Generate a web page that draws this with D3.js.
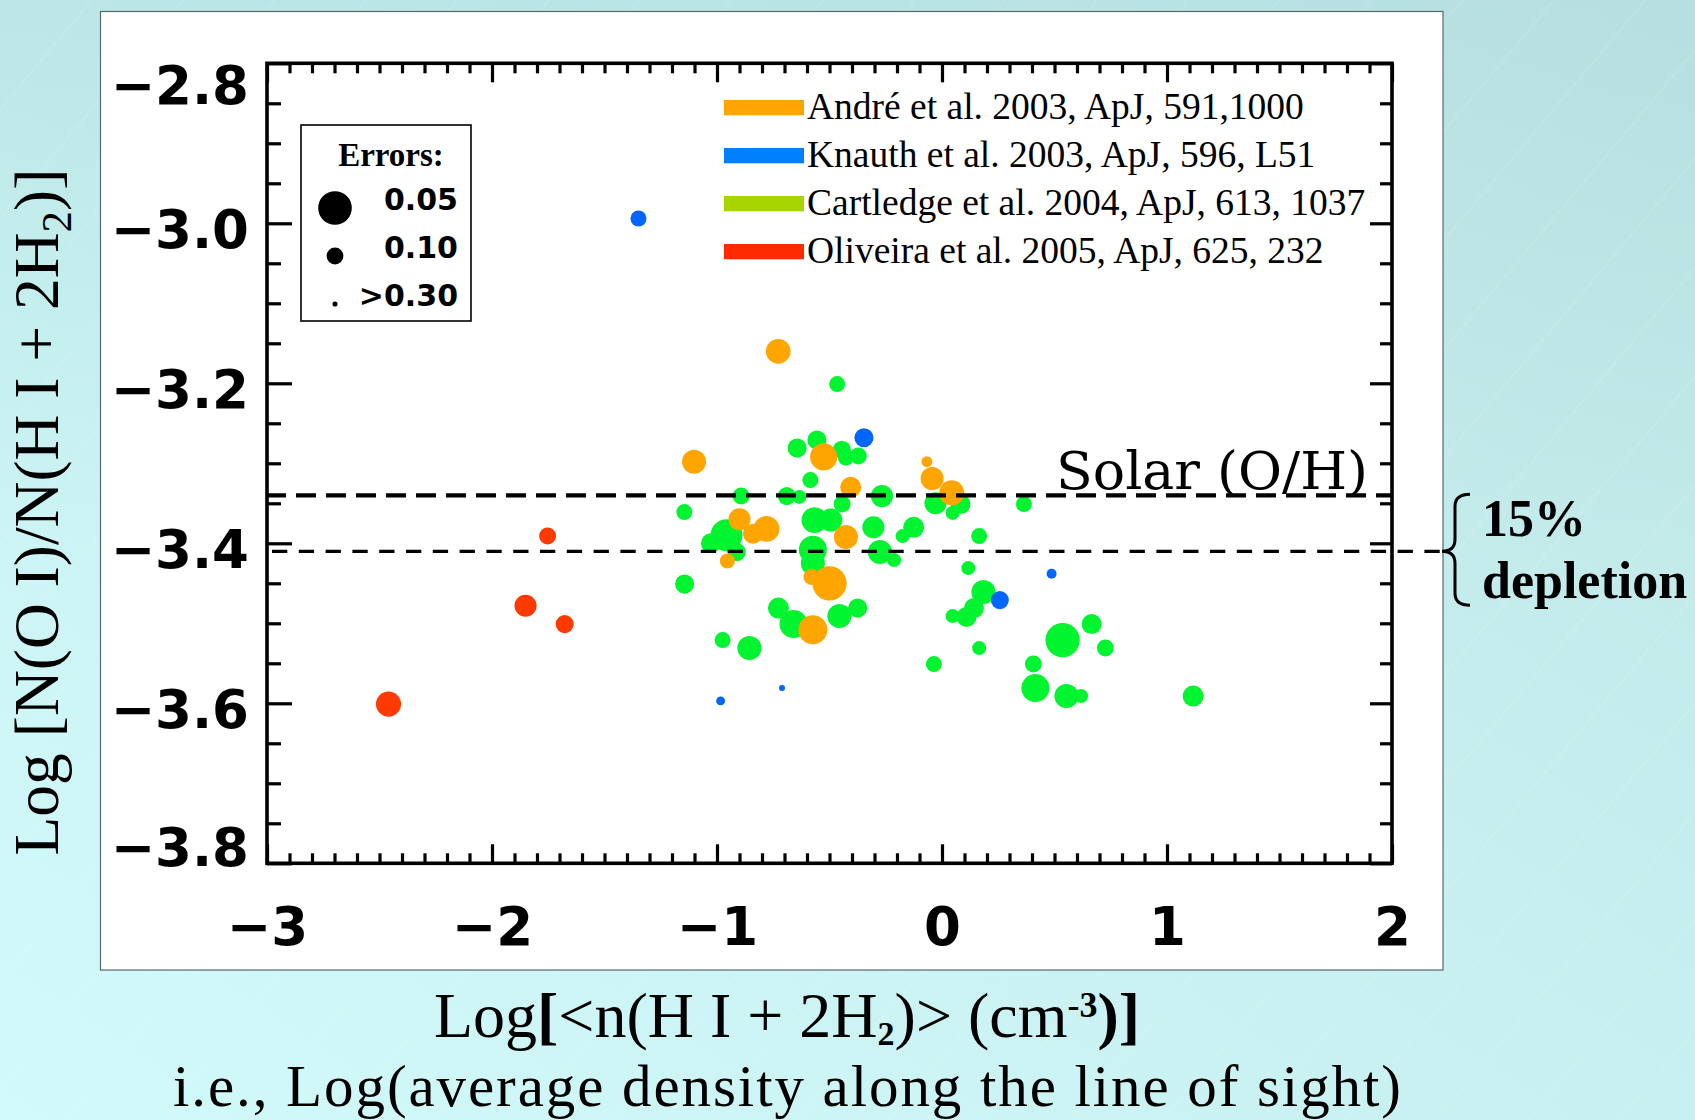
<!DOCTYPE html>
<html><head><meta charset="utf-8">
<script src="https://cdn.jsdelivr.net/npm/d3@7"></script>
<style>html,body{margin:0;padding:0;overflow:hidden;background:#c8eeee}</style>
</head><body>
<svg id="c" width="1695" height="1120"></svg>
<script>
// ---------------- data ----------------
const xTickValues = [-3, -2, -1, 0, 1, 2];
const yTickValues = [-2.8, -3.0, -3.2, -3.4, -3.6, -3.8];
const seriesNames = ["André et al. 2003, ApJ, 591,1000", "Knauth et al. 2003, ApJ, 596, L51",
  "Cartledge et al. 2004, ApJ, 613, 1037", "Oliveira et al. 2005, ApJ, 625, 232"];

const andreX = [-0.728,-0.526,-1.102,-0.067,-0.044,-0.406,0.043,-0.900,-0.780,-0.840,-0.427,-0.954,-0.580,-0.500,-0.574];
const andreY = [-3.160,-3.292,-3.298,-3.298,-3.319,-3.330,-3.337,-3.370,-3.382,-3.388,-3.392,-3.422,-3.442,-3.450,-3.508];
const andreErr = [0.068,0.062,0.07,0.153,0.073,0.08,0.067,0.076,0.065,0.084,0.07,0.112,0.105,0.049,0.058];

const knauthX = [-1.349,-0.347,0.487,0.257,-0.984,-0.711];
const knauthY = [-2.994,-3.268,-3.438,-3.471,-3.597,-3.581];
const knauthErr = [0.105,0.088,0.168,0.093,0.19,0.28];

const cartledgeX = [-0.466,-0.556,-0.644,-0.445,-0.427,-0.372,-0.585,-0.893,-0.690,-0.634,-0.267,-0.029,0.082,0.047,-0.444,-1.145,0.364,-0.567,-0.494,-0.305,-0.126,-0.175,-0.958,-1.027,-0.912,-0.574,-0.574,-0.276,-0.213,0.165,0.117,-1.144,0.184,0.142,0.109,0.047,-0.727,-0.660,-0.456,-0.375,-0.975,-0.856,0.165,-0.036,0.536,0.665,0.726,0.406,0.415,0.553,0.618,1.116];
const cartledgeY = [-3.201,-3.271,-3.281,-3.283,-3.293,-3.291,-3.321,-3.341,-3.341,-3.342,-3.341,-3.350,-3.351,-3.362,-3.351,-3.361,-3.351,-3.371,-3.371,-3.380,-3.380,-3.391,-3.390,-3.400,-3.411,-3.408,-3.425,-3.411,-3.421,-3.391,-3.431,-3.451,-3.461,-3.481,-3.492,-3.491,-3.481,-3.501,-3.491,-3.481,-3.521,-3.531,-3.531,-3.551,-3.521,-3.501,-3.531,-3.551,-3.581,-3.591,-3.591,-3.591];
const cartledgeErr = [0.105,0.088,0.088,0.093,0.105,0.099,0.105,0.099,0.093,0.12,0.076,0.076,0.084,0.12,0.099,0.105,0.105,0.065,0.073,0.076,0.08,0.12,0.0525,0.084,0.093,0.06,0.07,0.07,0.12,0.105,0.12,0.088,0.07,0.084,0.084,0.12,0.08,0.06,0.07,0.088,0.105,0.07,0.12,0.105,0.049,0.084,0.099,0.099,0.06,0.07,0.12,0.08];

const oliveiraX = [-1.753,-1.851,-1.677,-2.460];
const oliveiraY = [-3.391,-3.478,-3.501,-3.601];
const oliveiraErr = [0.099,0.076,0.093,0.067];

const solarOH = -3.34;
const depleted15 = -3.41;
const errorLegendValues = [0.05, 0.10, 0.33];
const errorLegendLabels = ["0.05", "0.10", ">0.30"];

// ---------------- drawing ----------------
const W = 1695, H = 1120;
const svg = d3.select("#c");
const defs = svg.append("defs");
const bg = defs.append("linearGradient").attr("id","bg")
  .attr("x1","0").attr("y1","1").attr("x2","1").attr("y2","0");
bg.append("stop").attr("offset","0").attr("stop-color","#d2fafa");
bg.append("stop").attr("offset","0.5").attr("stop-color","#c8f0f0");
bg.append("stop").attr("offset","1").attr("stop-color","#bfe4e4");
const vg = defs.append("linearGradient").attr("id","vg")
  .attr("x1","0").attr("y1","0").attr("x2","0").attr("y2","1");
vg.append("stop").attr("offset","0").attr("stop-color","#a8d6d6").attr("stop-opacity",0.35);
vg.append("stop").attr("offset","0.5").attr("stop-color","#a8d6d6").attr("stop-opacity",0);
const pat = defs.append("pattern").attr("id","stripes").attr("width",70).attr("height",70)
  .attr("patternUnits","userSpaceOnUse").attr("patternTransform","rotate(-50)");
pat.append("line").attr("x1",0).attr("y1",0).attr("x2",70).attr("y2",0)
  .attr("stroke","#ffffff").attr("stroke-opacity",0.18).attr("stroke-width",1.5);

svg.append("rect").attr("width",W).attr("height",H).attr("fill","url(#bg)");
svg.append("rect").attr("width",W).attr("height",H).attr("fill","url(#vg)");
svg.append("rect").attr("width",W).attr("height",H).attr("fill","url(#stripes)");

// white panel
svg.append("rect").attr("x",100.5).attr("y",11.5).attr("width",1342.5).attr("height",958.5)
  .attr("fill","#ffffff").attr("stroke","#56696b").attr("stroke-width",1.2);

const x = d3.scaleLinear().domain([-3, 2]).range([267, 1392]);
const y = d3.scaleLinear().domain([-3.8, -2.8]).range([863.3, 63.3]);
const X0 = x.range()[0], X1 = x.range()[1], Y0 = y.range()[0], Y1 = y.range()[1];

const isMult = (v, step) => Math.abs(Math.round(v/step) - v/step) < 1e-6;
const xMinor = x.ticks(50).filter(v => !isMult(v, 1));
const yMinor = y.ticks(20).filter(v => !isMult(v, 0.2));

const tickStyle = g => {
  g.select(".domain").remove();
  g.selectAll(".tick line").attr("stroke","#000").attr("stroke-width",3.2);
};
const tickFont = "'DejaVu Sans', sans-serif";

// bottom
svg.append("g").attr("transform",`translate(0,${Y0})`)
  .call(d3.axisBottom(x).tickValues(xMinor).tickSize(-10).tickFormat("")).call(tickStyle);
const xb = svg.append("g").attr("transform",`translate(0,${Y0})`)
  .call(d3.axisBottom(x).tickValues(xTickValues).tickSize(-19).tickPadding(44).tickFormat(d3.format("d")))
  .call(tickStyle);
xb.selectAll("text").attr("fill","#000").attr("font-family",tickFont)
  .attr("font-weight","bold").attr("font-size",53).attr("dy","0.71em");
// top
svg.append("g").attr("transform",`translate(0,${Y1})`)
  .call(d3.axisTop(x).tickValues(xMinor).tickSize(-10).tickFormat("")).call(tickStyle);
svg.append("g").attr("transform",`translate(0,${Y1})`)
  .call(d3.axisTop(x).tickValues(xTickValues).tickSize(-19).tickFormat("")).call(tickStyle);
// left
svg.append("g").attr("transform",`translate(${X0},0)`)
  .call(d3.axisLeft(y).tickValues(yMinor).tickSize(-14).tickFormat("")).call(tickStyle);
const yl = svg.append("g").attr("transform",`translate(${X0},0)`)
  .call(d3.axisLeft(y).tickValues(yTickValues).tickSize(-25).tickPadding(18).tickFormat(d3.format(".1f")))
  .call(tickStyle);
yl.selectAll("text").attr("fill","#000").attr("font-family",tickFont)
  .attr("font-weight","bold").attr("font-size",53).attr("dy",0)
  .attr("y", d => {
    const base = Math.max(Y1 + 40, Math.min(Y0 + 2, y(d) + 24.5));
    return base - y(d);
  });
// right
svg.append("g").attr("transform",`translate(${X1},0)`)
  .call(d3.axisRight(y).tickValues(yMinor).tickSize(-12).tickFormat("")).call(tickStyle);
svg.append("g").attr("transform",`translate(${X1},0)`)
  .call(d3.axisRight(y).tickValues(yTickValues).tickSize(-22).tickFormat("")).call(tickStyle);

// frame
svg.append("rect").attr("x",X0).attr("y",Y1).attr("width",X1-X0).attr("height",Y0-Y1)
  .attr("fill","none").attr("stroke","#000").attr("stroke-width",3.6);

// points
const rOf = e => 0.84 / e;
const pointColors = ["#ffa500", "#0066ff", "#00f530", "#ff3a00"];
const legendColors = ["#ffa500", "#0080ff", "#a8d400", "#ff2a00"];
const series = [
  {xs: cartledgeX, ys: cartledgeY, es: cartledgeErr, c: pointColors[2]},
  {xs: andreX, ys: andreY, es: andreErr, c: pointColors[0]},
  {xs: knauthX, ys: knauthY, es: knauthErr, c: pointColors[1]},
  {xs: oliveiraX, ys: oliveiraY, es: oliveiraErr, c: pointColors[3]},
];
const pg = svg.append("g");
series.forEach(s => {
  pg.append("g").selectAll("circle").data(s.xs.map((v,i)=>({x:v, y:s.ys[i], e:s.es[i]})))
    .join("circle").attr("cx", d=>x(d.x)).attr("cy", d=>y(d.y)).attr("r", d=>rOf(d.e))
    .attr("fill", s.c);
});

// reference lines
svg.append("line").attr("x1",X0-1).attr("x2",X1).attr("y1",y(solarOH)).attr("y2",y(solarOH))
  .attr("stroke","#000").attr("stroke-width",4.3).attr("stroke-dasharray","20,10");
svg.append("line").attr("x1",X0+5).attr("x2",1442).attr("y1",y(depleted15)).attr("y2",y(depleted15))
  .attr("stroke","#000").attr("stroke-width",3.3).attr("stroke-dasharray","15.3,11.5");

svg.append("text").attr("x",1056).attr("y",y(solarOH)-6).attr("font-family","'DejaVu Serif', serif")
  .attr("font-size",53).attr("fill","#000").attr("textLength",312).attr("lengthAdjust","spacingAndGlyphs")
  .text("Solar (O/H)");

// brace + depletion label
const yb = y(depleted15);
svg.append("path")
  .attr("d",`M1470,${yb-57} Q1455,${yb-57} 1455,${yb-45} L1455,${yb-12} Q1455,${yb} 1442,${yb} Q1455,${yb} 1455,${yb+12} L1455,${yb+42} Q1455,${yb+54} 1470,${yb+54}`)
  .attr("fill","none").attr("stroke","#000").attr("stroke-width",3);
svg.append("text").attr("x",1482).attr("y",536).attr("font-family","'Liberation Serif', serif")
  .attr("font-weight","bold").attr("font-size",52).attr("fill","#000").text("15%");
svg.append("text").attr("x",1482).attr("y",598).attr("font-family","'Liberation Serif', serif")
  .attr("font-weight","bold").attr("font-size",52).attr("fill","#000").text("depletion");

// series legend
const lg = svg.append("g");
seriesNames.forEach((n,i) => {
  const base = 119.3 + i*48;
  lg.append("rect").attr("x",724).attr("y",base-19.3).attr("width",80).attr("height",15.3).attr("fill",legendColors[i]);
  lg.append("text").attr("x",807).attr("y",base).attr("font-family","'Liberation Serif', serif")
    .attr("font-size",37.5).attr("fill","#000").text(n);
});

// error legend
const eg = svg.append("g");
eg.append("rect").attr("x",301).attr("y",125).attr("width",170).attr("height",196)
  .attr("fill","#fff").attr("stroke","#000").attr("stroke-width",1.6);
eg.append("text").attr("x",391).attr("y",166).attr("text-anchor","middle")
  .attr("font-family","'Liberation Serif', serif").attr("font-weight","bold").attr("font-size",33)
  .attr("fill","#000").text("Errors:");
const eRows = [208, 256, 304];
errorLegendValues.forEach((e,i) => {
  eg.append("circle").attr("cx",335).attr("cy",eRows[i]).attr("r",rOf(e)).attr("fill","#000");
  eg.append("text").attr("x",458).attr("y",eRows[i]+2).attr("text-anchor","end")
    .attr("font-family",tickFont).attr("font-weight","bold").attr("font-size",30)
    .attr("fill","#000").text(errorLegendLabels[i]);
});

// axis titles
const serif = "'Liberation Serif', 'Times New Roman', serif";
const yt = svg.append("text").attr("transform","translate(58,512) rotate(-90)")
  .attr("text-anchor","middle").attr("font-family",serif).attr("font-size",63.5).attr("fill","#000");
yt.append("tspan").text("Log [N(O I)/N(H I + 2H");
yt.append("tspan").attr("font-size",43).attr("dy",13).text("2");
yt.append("tspan").attr("dy",-13).text(")]");

const xt = svg.append("text").attr("x",787).attr("y",1037).attr("text-anchor","middle")
  .attr("font-family",serif).attr("font-size",64).attr("fill","#000");
xt.append("tspan").text("Log");
xt.append("tspan").attr("font-weight","bold").text("[");
xt.append("tspan").text("<n(H I + 2H");
xt.append("tspan").attr("font-weight","bold").attr("font-size",34).attr("dy",8).text("2");
xt.append("tspan").attr("dy",-8).text(")> (cm");
xt.append("tspan").attr("font-weight","bold").attr("font-size",36).attr("dy",-20).text("-3");
xt.append("tspan").attr("font-weight","bold").attr("dy",20).text(")]");

svg.append("text").attr("x",787).attr("y",1106).attr("text-anchor","middle")
  .attr("font-family",serif).attr("font-size",59).attr("fill","#000")
  .attr("textLength",1228).attr("lengthAdjust","spacing")
  .text("i.e., Log(average density along the line of sight)");
</script>
</body></html>
